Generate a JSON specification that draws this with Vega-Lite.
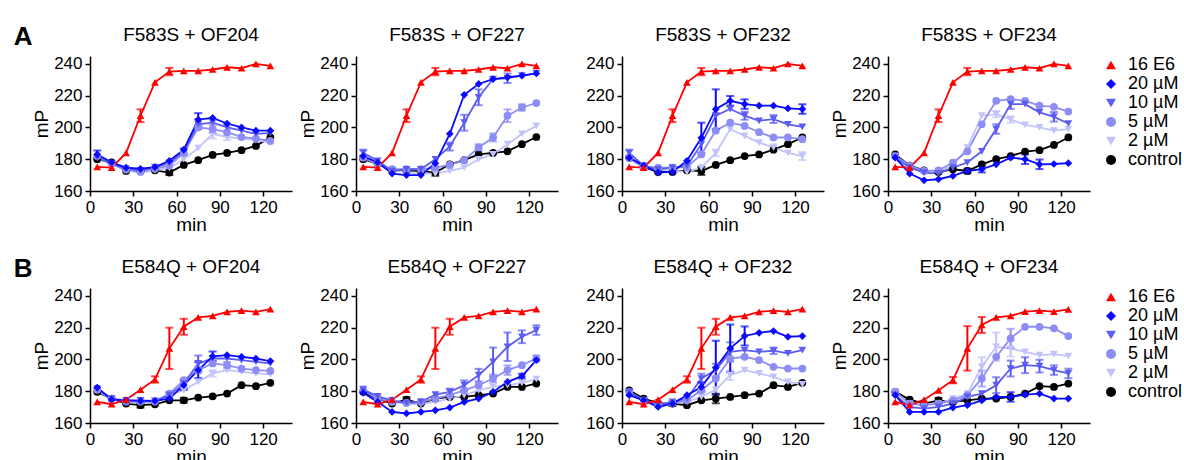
{
"$schema": "https://vega.github.io/schema/vega-lite/v6.json",
"padding": {"left": 13, "top": 23, "right": 0, "bottom": 0},
"background": "white",
"datasets": {
"d": [
{"p":"A1","s":"control","t":5,"y":180},{"p":"A1","s":"control","t":15,"y":178},{"p":"A1","s":"control","t":25,"y":172.6},{"p":"A1","s":"control","t":35,"y":172.6},{"p":"A1","s":"control","t":45,"y":173},{"p":"A1","s":"control","t":55,"y":171.6,"e":1.5},{"p":"A1","s":"control","t":65,"y":176.4},{"p":"A1","s":"control","t":75,"y":179.4},{"p":"A1","s":"control","t":85,"y":182.7},{"p":"A1","s":"control","t":95,"y":184},{"p":"A1","s":"control","t":105,"y":185.7},{"p":"A1","s":"control","t":115,"y":188.4},{"p":"A1","s":"control","t":125,"y":193.7},
{"p":"A1","s":"2 µM","t":5,"y":181},{"p":"A1","s":"2 µM","t":15,"y":177},{"p":"A1","s":"2 µM","t":25,"y":173},{"p":"A1","s":"2 µM","t":35,"y":171.5},{"p":"A1","s":"2 µM","t":45,"y":173},{"p":"A1","s":"2 µM","t":55,"y":174.5},{"p":"A1","s":"2 µM","t":65,"y":180},{"p":"A1","s":"2 µM","t":75,"y":187},{"p":"A1","s":"2 µM","t":85,"y":196,"e":3},{"p":"A1","s":"2 µM","t":95,"y":194,"e":2},{"p":"A1","s":"2 µM","t":105,"y":193},{"p":"A1","s":"2 µM","t":115,"y":192},{"p":"A1","s":"2 µM","t":125,"y":190.5},
{"p":"A1","s":"5 µM","t":5,"y":182},{"p":"A1","s":"5 µM","t":15,"y":177},{"p":"A1","s":"5 µM","t":25,"y":173.5},{"p":"A1","s":"5 µM","t":35,"y":172},{"p":"A1","s":"5 µM","t":45,"y":174},{"p":"A1","s":"5 µM","t":55,"y":176},{"p":"A1","s":"5 µM","t":65,"y":184},{"p":"A1","s":"5 µM","t":75,"y":200},{"p":"A1","s":"5 µM","t":85,"y":199,"e":2.5},{"p":"A1","s":"5 µM","t":95,"y":197},{"p":"A1","s":"5 µM","t":105,"y":194},{"p":"A1","s":"5 µM","t":115,"y":193},{"p":"A1","s":"5 µM","t":125,"y":191.5},
{"p":"A1","s":"10 µM","t":5,"y":181},{"p":"A1","s":"10 µM","t":15,"y":177},{"p":"A1","s":"10 µM","t":25,"y":174},{"p":"A1","s":"10 µM","t":35,"y":173},{"p":"A1","s":"10 µM","t":45,"y":175},{"p":"A1","s":"10 µM","t":55,"y":177.5},{"p":"A1","s":"10 µM","t":65,"y":185,"e":2},{"p":"A1","s":"10 µM","t":75,"y":202,"e":3},{"p":"A1","s":"10 µM","t":85,"y":203},{"p":"A1","s":"10 µM","t":95,"y":200},{"p":"A1","s":"10 µM","t":105,"y":198},{"p":"A1","s":"10 µM","t":115,"y":196},{"p":"A1","s":"10 µM","t":125,"y":196.5},
{"p":"A1","s":"20 µM","t":5,"y":183,"e":2.5},{"p":"A1","s":"20 µM","t":15,"y":178},{"p":"A1","s":"20 µM","t":25,"y":174.7},{"p":"A1","s":"20 µM","t":35,"y":174},{"p":"A1","s":"20 µM","t":45,"y":175},{"p":"A1","s":"20 µM","t":55,"y":179},{"p":"A1","s":"20 µM","t":65,"y":186},{"p":"A1","s":"20 µM","t":75,"y":205,"e":4},{"p":"A1","s":"20 µM","t":85,"y":206},{"p":"A1","s":"20 µM","t":95,"y":202.5},{"p":"A1","s":"20 µM","t":105,"y":200},{"p":"A1","s":"20 µM","t":115,"y":198},{"p":"A1","s":"20 µM","t":125,"y":198},
{"p":"A1","s":"16 E6","t":5,"y":175.2},{"p":"A1","s":"16 E6","t":15,"y":174.7},{"p":"A1","s":"16 E6","t":25,"y":184},{"p":"A1","s":"16 E6","t":35,"y":207.4,"e":4},{"p":"A1","s":"16 E6","t":45,"y":228.4},{"p":"A1","s":"16 E6","t":55,"y":235.2,"e":2.3},{"p":"A1","s":"16 E6","t":65,"y":235.6},{"p":"A1","s":"16 E6","t":75,"y":235.6},{"p":"A1","s":"16 E6","t":85,"y":236.5},{"p":"A1","s":"16 E6","t":95,"y":237.9},{"p":"A1","s":"16 E6","t":105,"y":237.3},{"p":"A1","s":"16 E6","t":115,"y":240},{"p":"A1","s":"16 E6","t":125,"y":238.8},

{"p":"A2","s":"control","t":5,"y":180},{"p":"A2","s":"control","t":15,"y":177},{"p":"A2","s":"control","t":25,"y":173},{"p":"A2","s":"control","t":35,"y":173},{"p":"A2","s":"control","t":45,"y":172.5},{"p":"A2","s":"control","t":55,"y":171.6,"e":2},{"p":"A2","s":"control","t":65,"y":176.8},{"p":"A2","s":"control","t":75,"y":179.5},{"p":"A2","s":"control","t":85,"y":183},{"p":"A2","s":"control","t":95,"y":184},{"p":"A2","s":"control","t":105,"y":185},{"p":"A2","s":"control","t":115,"y":189.5},{"p":"A2","s":"control","t":125,"y":194},
{"p":"A2","s":"2 µM","t":5,"y":181},{"p":"A2","s":"2 µM","t":15,"y":177},{"p":"A2","s":"2 µM","t":25,"y":173.7},{"p":"A2","s":"2 µM","t":35,"y":171.6},{"p":"A2","s":"2 µM","t":45,"y":171},{"p":"A2","s":"2 µM","t":55,"y":171},{"p":"A2","s":"2 µM","t":65,"y":172.6},{"p":"A2","s":"2 µM","t":75,"y":174.7},{"p":"A2","s":"2 µM","t":85,"y":180},{"p":"A2","s":"2 µM","t":95,"y":183},{"p":"A2","s":"2 µM","t":105,"y":189.5},{"p":"A2","s":"2 µM","t":115,"y":196},{"p":"A2","s":"2 µM","t":125,"y":201},
{"p":"A2","s":"5 µM","t":5,"y":181},{"p":"A2","s":"5 µM","t":15,"y":177},{"p":"A2","s":"5 µM","t":25,"y":173.7},{"p":"A2","s":"5 µM","t":35,"y":173.7},{"p":"A2","s":"5 µM","t":45,"y":173.7},{"p":"A2","s":"5 µM","t":55,"y":174.7},{"p":"A2","s":"5 µM","t":65,"y":176.4},{"p":"A2","s":"5 µM","t":75,"y":179.4},{"p":"A2","s":"5 µM","t":85,"y":187.4,"e":2},{"p":"A2","s":"5 µM","t":95,"y":193.7,"e":2.5},{"p":"A2","s":"5 µM","t":105,"y":207.4,"e":4},{"p":"A2","s":"5 µM","t":115,"y":212.6,"e":2},{"p":"A2","s":"5 µM","t":125,"y":215.4},
{"p":"A2","s":"10 µM","t":5,"y":184,"e":2},{"p":"A2","s":"10 µM","t":15,"y":179},{"p":"A2","s":"10 µM","t":25,"y":172.6},{"p":"A2","s":"10 µM","t":35,"y":173.7},{"p":"A2","s":"10 µM","t":45,"y":173.7},{"p":"A2","s":"10 µM","t":55,"y":180},{"p":"A2","s":"10 µM","t":65,"y":188,"e":2.5},{"p":"A2","s":"10 µM","t":75,"y":203,"e":5},{"p":"A2","s":"10 µM","t":85,"y":219,"e":5},{"p":"A2","s":"10 µM","t":95,"y":230.5},{"p":"A2","s":"10 µM","t":105,"y":231,"e":3},{"p":"A2","s":"10 µM","t":115,"y":232.6},{"p":"A2","s":"10 µM","t":125,"y":234},
{"p":"A2","s":"20 µM","t":5,"y":182},{"p":"A2","s":"20 µM","t":15,"y":178},{"p":"A2","s":"20 µM","t":25,"y":171},{"p":"A2","s":"20 µM","t":35,"y":170},{"p":"A2","s":"20 µM","t":45,"y":170},{"p":"A2","s":"20 µM","t":55,"y":177.5},{"p":"A2","s":"20 µM","t":65,"y":196},{"p":"A2","s":"20 µM","t":75,"y":220.6},{"p":"A2","s":"20 µM","t":85,"y":227.4},{"p":"A2","s":"20 µM","t":95,"y":230.5},{"p":"A2","s":"20 µM","t":105,"y":231.6},{"p":"A2","s":"20 µM","t":115,"y":232.6},{"p":"A2","s":"20 µM","t":125,"y":234},
{"p":"A2","s":"16 E6","t":5,"y":175.2},{"p":"A2","s":"16 E6","t":15,"y":174.7},{"p":"A2","s":"16 E6","t":25,"y":184},{"p":"A2","s":"16 E6","t":35,"y":207.4,"e":4},{"p":"A2","s":"16 E6","t":45,"y":228.4},{"p":"A2","s":"16 E6","t":55,"y":235.2,"e":2.3},{"p":"A2","s":"16 E6","t":65,"y":235.6},{"p":"A2","s":"16 E6","t":75,"y":235.6},{"p":"A2","s":"16 E6","t":85,"y":236.5},{"p":"A2","s":"16 E6","t":95,"y":237.9},{"p":"A2","s":"16 E6","t":105,"y":237.3},{"p":"A2","s":"16 E6","t":115,"y":240},{"p":"A2","s":"16 E6","t":125,"y":238.8},

{"p":"A3","s":"control","t":5,"y":181},{"p":"A3","s":"control","t":15,"y":175},{"p":"A3","s":"control","t":25,"y":172},{"p":"A3","s":"control","t":35,"y":172},{"p":"A3","s":"control","t":45,"y":173},{"p":"A3","s":"control","t":55,"y":172.6,"e":2.5},{"p":"A3","s":"control","t":65,"y":176.4},{"p":"A3","s":"control","t":75,"y":179.4},{"p":"A3","s":"control","t":85,"y":182},{"p":"A3","s":"control","t":95,"y":183},{"p":"A3","s":"control","t":105,"y":186},{"p":"A3","s":"control","t":115,"y":189.5},{"p":"A3","s":"control","t":125,"y":193.7},
{"p":"A3","s":"2 µM","t":5,"y":180},{"p":"A3","s":"2 µM","t":15,"y":174.7},{"p":"A3","s":"2 µM","t":25,"y":173.7},{"p":"A3","s":"2 µM","t":35,"y":172.6},{"p":"A3","s":"2 µM","t":45,"y":172},{"p":"A3","s":"2 µM","t":55,"y":174.7},{"p":"A3","s":"2 µM","t":65,"y":184,"e":2},{"p":"A3","s":"2 µM","t":75,"y":199},{"p":"A3","s":"2 µM","t":85,"y":194.7},{"p":"A3","s":"2 µM","t":95,"y":190.5},{"p":"A3","s":"2 µM","t":105,"y":187.4,"e":2},{"p":"A3","s":"2 µM","t":115,"y":184},{"p":"A3","s":"2 µM","t":125,"y":182,"e":2.5},
{"p":"A3","s":"5 µM","t":5,"y":181},{"p":"A3","s":"5 µM","t":15,"y":175},{"p":"A3","s":"5 µM","t":25,"y":174.7},{"p":"A3","s":"5 µM","t":35,"y":174.7},{"p":"A3","s":"5 µM","t":45,"y":175},{"p":"A3","s":"5 µM","t":55,"y":183},{"p":"A3","s":"5 µM","t":65,"y":198},{"p":"A3","s":"5 µM","t":75,"y":203},{"p":"A3","s":"5 µM","t":85,"y":201},{"p":"A3","s":"5 µM","t":95,"y":197},{"p":"A3","s":"5 µM","t":105,"y":193.7},{"p":"A3","s":"5 µM","t":115,"y":193.7},{"p":"A3","s":"5 µM","t":125,"y":192.6},
{"p":"A3","s":"10 µM","t":5,"y":184,"e":2},{"p":"A3","s":"10 µM","t":15,"y":176},{"p":"A3","s":"10 µM","t":25,"y":173.7},{"p":"A3","s":"10 µM","t":35,"y":174.7},{"p":"A3","s":"10 µM","t":45,"y":175.8},{"p":"A3","s":"10 µM","t":55,"y":189.5},{"p":"A3","s":"10 µM","t":65,"y":207.4},{"p":"A3","s":"10 µM","t":75,"y":211.6},{"p":"A3","s":"10 µM","t":85,"y":207.4,"e":2.5},{"p":"A3","s":"10 µM","t":95,"y":204.2},{"p":"A3","s":"10 µM","t":105,"y":205.3,"e":2.5},{"p":"A3","s":"10 µM","t":115,"y":202},{"p":"A3","s":"10 µM","t":125,"y":200.4},
{"p":"A3","s":"20 µM","t":5,"y":181},{"p":"A3","s":"20 µM","t":15,"y":176},{"p":"A3","s":"20 µM","t":25,"y":171.6},{"p":"A3","s":"20 µM","t":35,"y":172},{"p":"A3","s":"20 µM","t":45,"y":179},{"p":"A3","s":"20 µM","t":55,"y":193.5,"e":9.5},{"p":"A3","s":"20 µM","t":65,"y":211.5,"e":12.5},{"p":"A3","s":"20 µM","t":75,"y":216.8,"e":3},{"p":"A3","s":"20 µM","t":85,"y":214.7,"e":3},{"p":"A3","s":"20 µM","t":95,"y":213.7},{"p":"A3","s":"20 µM","t":105,"y":213.7},{"p":"A3","s":"20 µM","t":115,"y":212},{"p":"A3","s":"20 µM","t":125,"y":211.6,"e":3},
{"p":"A3","s":"16 E6","t":5,"y":175.2},{"p":"A3","s":"16 E6","t":15,"y":174.7},{"p":"A3","s":"16 E6","t":25,"y":184},{"p":"A3","s":"16 E6","t":35,"y":207.4,"e":4},{"p":"A3","s":"16 E6","t":45,"y":228.4},{"p":"A3","s":"16 E6","t":55,"y":235.2,"e":2.3},{"p":"A3","s":"16 E6","t":65,"y":235.6},{"p":"A3","s":"16 E6","t":75,"y":235.6},{"p":"A3","s":"16 E6","t":85,"y":236.5},{"p":"A3","s":"16 E6","t":95,"y":237.9},{"p":"A3","s":"16 E6","t":105,"y":237.3},{"p":"A3","s":"16 E6","t":115,"y":240},{"p":"A3","s":"16 E6","t":125,"y":238.8},

{"p":"A4","s":"control","t":5,"y":183},{"p":"A4","s":"control","t":15,"y":176},{"p":"A4","s":"control","t":25,"y":173},{"p":"A4","s":"control","t":35,"y":172},{"p":"A4","s":"control","t":45,"y":173.7},{"p":"A4","s":"control","t":55,"y":172.6,"e":1.5},{"p":"A4","s":"control","t":65,"y":176.8},{"p":"A4","s":"control","t":75,"y":180},{"p":"A4","s":"control","t":85,"y":182},{"p":"A4","s":"control","t":95,"y":184.8},{"p":"A4","s":"control","t":105,"y":185.7},{"p":"A4","s":"control","t":115,"y":189},{"p":"A4","s":"control","t":125,"y":193.7},
{"p":"A4","s":"2 µM","t":5,"y":182},{"p":"A4","s":"2 µM","t":15,"y":174.7},{"p":"A4","s":"2 µM","t":25,"y":172.6},{"p":"A4","s":"2 µM","t":35,"y":172.6},{"p":"A4","s":"2 µM","t":45,"y":175.8},{"p":"A4","s":"2 µM","t":55,"y":187.4},{"p":"A4","s":"2 µM","t":65,"y":207.4},{"p":"A4","s":"2 µM","t":75,"y":208.4,"e":2},{"p":"A4","s":"2 µM","t":85,"y":205,"e":2},{"p":"A4","s":"2 µM","t":95,"y":201.7},{"p":"A4","s":"2 µM","t":105,"y":200},{"p":"A4","s":"2 µM","t":115,"y":198},{"p":"A4","s":"2 µM","t":125,"y":199},
{"p":"A4","s":"5 µM","t":5,"y":182},{"p":"A4","s":"5 µM","t":15,"y":176},{"p":"A4","s":"5 µM","t":25,"y":172.6},{"p":"A4","s":"5 µM","t":35,"y":173},{"p":"A4","s":"5 µM","t":45,"y":177.9},{"p":"A4","s":"5 µM","t":55,"y":185},{"p":"A4","s":"5 µM","t":65,"y":202},{"p":"A4","s":"5 µM","t":75,"y":216.8},{"p":"A4","s":"5 µM","t":85,"y":217.9},{"p":"A4","s":"5 µM","t":95,"y":216.8},{"p":"A4","s":"5 µM","t":105,"y":213.7},{"p":"A4","s":"5 µM","t":115,"y":213},{"p":"A4","s":"5 µM","t":125,"y":210},
{"p":"A4","s":"10 µM","t":5,"y":181},{"p":"A4","s":"10 µM","t":15,"y":174.7},{"p":"A4","s":"10 µM","t":25,"y":171.6},{"p":"A4","s":"10 µM","t":35,"y":171},{"p":"A4","s":"10 µM","t":45,"y":174.7},{"p":"A4","s":"10 µM","t":55,"y":177.9},{"p":"A4","s":"10 µM","t":65,"y":185},{"p":"A4","s":"10 µM","t":75,"y":199,"e":3},{"p":"A4","s":"10 µM","t":85,"y":214.7,"e":3},{"p":"A4","s":"10 µM","t":95,"y":214.7},{"p":"A4","s":"10 µM","t":105,"y":209.5},{"p":"A4","s":"10 µM","t":115,"y":206.7,"e":3},{"p":"A4","s":"10 µM","t":125,"y":202.5},
{"p":"A4","s":"20 µM","t":5,"y":181},{"p":"A4","s":"20 µM","t":15,"y":171},{"p":"A4","s":"20 µM","t":25,"y":166.7},{"p":"A4","s":"20 µM","t":35,"y":167.4},{"p":"A4","s":"20 µM","t":45,"y":169.5},{"p":"A4","s":"20 µM","t":55,"y":172.6},{"p":"A4","s":"20 µM","t":65,"y":173.7,"e":2},{"p":"A4","s":"20 µM","t":75,"y":176.8},{"p":"A4","s":"20 µM","t":85,"y":181},{"p":"A4","s":"20 µM","t":95,"y":180,"e":3},{"p":"A4","s":"20 µM","t":105,"y":176.8,"e":3},{"p":"A4","s":"20 µM","t":115,"y":177},{"p":"A4","s":"20 µM","t":125,"y":177.5},
{"p":"A4","s":"16 E6","t":5,"y":175.2},{"p":"A4","s":"16 E6","t":15,"y":174.7},{"p":"A4","s":"16 E6","t":25,"y":184},{"p":"A4","s":"16 E6","t":35,"y":207.4,"e":4},{"p":"A4","s":"16 E6","t":45,"y":228.4},{"p":"A4","s":"16 E6","t":55,"y":235.2,"e":2.3},{"p":"A4","s":"16 E6","t":65,"y":235.6},{"p":"A4","s":"16 E6","t":75,"y":235.6},{"p":"A4","s":"16 E6","t":85,"y":236.5},{"p":"A4","s":"16 E6","t":95,"y":237.9},{"p":"A4","s":"16 E6","t":105,"y":237.3},{"p":"A4","s":"16 E6","t":115,"y":240},{"p":"A4","s":"16 E6","t":125,"y":238.8},

{"p":"B1","s":"control","t":5,"y":179.6},{"p":"B1","s":"control","t":15,"y":175.4},{"p":"B1","s":"control","t":25,"y":172.2},{"p":"B1","s":"control","t":35,"y":171.2,"e":1.5},{"p":"B1","s":"control","t":45,"y":171.8},{"p":"B1","s":"control","t":55,"y":174.3},{"p":"B1","s":"control","t":65,"y":174.3,"e":1.5},{"p":"B1","s":"control","t":75,"y":176},{"p":"B1","s":"control","t":85,"y":176.8},{"p":"B1","s":"control","t":95,"y":178.5},{"p":"B1","s":"control","t":105,"y":183.8},{"p":"B1","s":"control","t":115,"y":183.2},{"p":"B1","s":"control","t":125,"y":185.3},
{"p":"B1","s":"2 µM","t":5,"y":180.5},{"p":"B1","s":"2 µM","t":15,"y":175},{"p":"B1","s":"2 µM","t":25,"y":173},{"p":"B1","s":"2 µM","t":35,"y":173},{"p":"B1","s":"2 µM","t":45,"y":173},{"p":"B1","s":"2 µM","t":55,"y":177.5},{"p":"B1","s":"2 µM","t":65,"y":180.6},{"p":"B1","s":"2 µM","t":75,"y":185.9},{"p":"B1","s":"2 µM","t":85,"y":191.2,"e":2},{"p":"B1","s":"2 µM","t":95,"y":193.3},{"p":"B1","s":"2 µM","t":105,"y":192.2},{"p":"B1","s":"2 µM","t":115,"y":191.2},{"p":"B1","s":"2 µM","t":125,"y":190.7},
{"p":"B1","s":"5 µM","t":5,"y":181},{"p":"B1","s":"5 µM","t":15,"y":175},{"p":"B1","s":"5 µM","t":25,"y":173.5},{"p":"B1","s":"5 µM","t":35,"y":173.5},{"p":"B1","s":"5 µM","t":45,"y":173.5},{"p":"B1","s":"5 µM","t":55,"y":178.5},{"p":"B1","s":"5 µM","t":65,"y":187},{"p":"B1","s":"5 µM","t":75,"y":193.3,"e":2},{"p":"B1","s":"5 µM","t":85,"y":197.5},{"p":"B1","s":"5 µM","t":95,"y":196.4,"e":2},{"p":"B1","s":"5 µM","t":105,"y":194.3},{"p":"B1","s":"5 µM","t":115,"y":193.3},{"p":"B1","s":"5 µM","t":125,"y":192.8},
{"p":"B1","s":"10 µM","t":5,"y":181.7},{"p":"B1","s":"10 µM","t":15,"y":175.4},{"p":"B1","s":"10 µM","t":25,"y":174.3},{"p":"B1","s":"10 µM","t":35,"y":174.3},{"p":"B1","s":"10 µM","t":45,"y":173.9},{"p":"B1","s":"10 µM","t":55,"y":177.5,"e":2},{"p":"B1","s":"10 µM","t":65,"y":184.8,"e":3},{"p":"B1","s":"10 µM","t":75,"y":197.5,"e":5},{"p":"B1","s":"10 µM","t":85,"y":200.6},{"p":"B1","s":"10 µM","t":95,"y":200.6},{"p":"B1","s":"10 µM","t":105,"y":199.6},{"p":"B1","s":"10 µM","t":115,"y":198.5},{"p":"B1","s":"10 µM","t":125,"y":197.5},
{"p":"B1","s":"20 µM","t":5,"y":182.3},{"p":"B1","s":"20 µM","t":15,"y":174.7},{"p":"B1","s":"20 µM","t":25,"y":174.3},{"p":"B1","s":"20 µM","t":35,"y":173.9},{"p":"B1","s":"20 µM","t":45,"y":173.9},{"p":"B1","s":"20 µM","t":55,"y":175.4},{"p":"B1","s":"20 µM","t":65,"y":183.8,"e":3},{"p":"B1","s":"20 µM","t":75,"y":193.3,"e":5},{"p":"B1","s":"20 µM","t":85,"y":202,"e":3},{"p":"B1","s":"20 µM","t":95,"y":202.7},{"p":"B1","s":"20 µM","t":105,"y":201.7},{"p":"B1","s":"20 µM","t":115,"y":200.6},{"p":"B1","s":"20 µM","t":125,"y":199},
{"p":"B1","s":"16 E6","t":5,"y":173.3},{"p":"B1","s":"16 E6","t":15,"y":171.8},{"p":"B1","s":"16 E6","t":25,"y":174.7},{"p":"B1","s":"16 E6","t":35,"y":181},{"p":"B1","s":"16 E6","t":45,"y":187.4,"e":2},{"p":"B1","s":"16 E6","t":55,"y":207,"e":13},{"p":"B1","s":"16 E6","t":65,"y":220.6,"e":5},{"p":"B1","s":"16 E6","t":75,"y":226.5},{"p":"B1","s":"16 E6","t":85,"y":227.5},{"p":"B1","s":"16 E6","t":95,"y":230},{"p":"B1","s":"16 E6","t":105,"y":230.8},{"p":"B1","s":"16 E6","t":115,"y":230},{"p":"B1","s":"16 E6","t":125,"y":231.7},

{"p":"B2","s":"control","t":5,"y":179.6},{"p":"B2","s":"control","t":15,"y":175.4},{"p":"B2","s":"control","t":25,"y":172.2},{"p":"B2","s":"control","t":35,"y":174.7,"e":1.5},{"p":"B2","s":"control","t":45,"y":172.2},{"p":"B2","s":"control","t":55,"y":175.4},{"p":"B2","s":"control","t":65,"y":176.4},{"p":"B2","s":"control","t":75,"y":176.4},{"p":"B2","s":"control","t":85,"y":177.5},{"p":"B2","s":"control","t":95,"y":178.5},{"p":"B2","s":"control","t":105,"y":182.7},{"p":"B2","s":"control","t":115,"y":182.7},{"p":"B2","s":"control","t":125,"y":184.8},
{"p":"B2","s":"2 µM","t":5,"y":181.7},{"p":"B2","s":"2 µM","t":15,"y":175.4},{"p":"B2","s":"2 µM","t":25,"y":174.3},{"p":"B2","s":"2 µM","t":35,"y":172.2},{"p":"B2","s":"2 µM","t":45,"y":171.8},{"p":"B2","s":"2 µM","t":55,"y":173.3},{"p":"B2","s":"2 µM","t":65,"y":175.4},{"p":"B2","s":"2 µM","t":75,"y":177.5},{"p":"B2","s":"2 µM","t":85,"y":180.6},{"p":"B2","s":"2 µM","t":95,"y":182.7},{"p":"B2","s":"2 µM","t":105,"y":183.8},{"p":"B2","s":"2 µM","t":115,"y":185.3},{"p":"B2","s":"2 µM","t":125,"y":187.6},
{"p":"B2","s":"5 µM","t":5,"y":180.6},{"p":"B2","s":"5 µM","t":15,"y":175.4},{"p":"B2","s":"5 µM","t":25,"y":173.3},{"p":"B2","s":"5 µM","t":35,"y":172.6},{"p":"B2","s":"5 µM","t":45,"y":173.3},{"p":"B2","s":"5 µM","t":55,"y":175.4},{"p":"B2","s":"5 µM","t":65,"y":177.5},{"p":"B2","s":"5 µM","t":75,"y":180.6},{"p":"B2","s":"5 µM","t":85,"y":183.8},{"p":"B2","s":"5 µM","t":95,"y":188,"e":2.5},{"p":"B2","s":"5 µM","t":105,"y":193.3,"e":3},{"p":"B2","s":"5 µM","t":115,"y":196.4},{"p":"B2","s":"5 µM","t":125,"y":200.6,"e":2},
{"p":"B2","s":"10 µM","t":5,"y":181},{"p":"B2","s":"10 µM","t":15,"y":176.8},{"p":"B2","s":"10 µM","t":25,"y":174.3},{"p":"B2","s":"10 µM","t":35,"y":172.6},{"p":"B2","s":"10 µM","t":45,"y":173.3},{"p":"B2","s":"10 µM","t":55,"y":177.9},{"p":"B2","s":"10 µM","t":65,"y":179.6,"e":2},{"p":"B2","s":"10 µM","t":75,"y":183.8,"e":3},{"p":"B2","s":"10 µM","t":85,"y":190.1,"e":4},{"p":"B2","s":"10 µM","t":95,"y":198.5,"e":9},{"p":"B2","s":"10 µM","t":105,"y":208,"e":9},{"p":"B2","s":"10 µM","t":115,"y":214.3,"e":4},{"p":"B2","s":"10 µM","t":125,"y":218.5,"e":3},
{"p":"B2","s":"20 µM","t":5,"y":179},{"p":"B2","s":"20 µM","t":15,"y":173.3},{"p":"B2","s":"20 µM","t":25,"y":167},{"p":"B2","s":"20 µM","t":35,"y":166},{"p":"B2","s":"20 µM","t":45,"y":167},{"p":"B2","s":"20 µM","t":55,"y":168},{"p":"B2","s":"20 µM","t":65,"y":169.7},{"p":"B2","s":"20 µM","t":75,"y":173.3},{"p":"B2","s":"20 µM","t":85,"y":175.4},{"p":"B2","s":"20 µM","t":95,"y":179.6},{"p":"B2","s":"20 µM","t":105,"y":185.9},{"p":"B2","s":"20 µM","t":115,"y":189.5,"e":1.5},{"p":"B2","s":"20 µM","t":125,"y":199.6},
{"p":"B2","s":"16 E6","t":5,"y":173.3},{"p":"B2","s":"16 E6","t":15,"y":171.8},{"p":"B2","s":"16 E6","t":25,"y":174.7},{"p":"B2","s":"16 E6","t":35,"y":181},{"p":"B2","s":"16 E6","t":45,"y":187.4,"e":2},{"p":"B2","s":"16 E6","t":55,"y":207,"e":13},{"p":"B2","s":"16 E6","t":65,"y":220.6,"e":5},{"p":"B2","s":"16 E6","t":75,"y":226.5},{"p":"B2","s":"16 E6","t":85,"y":227.5},{"p":"B2","s":"16 E6","t":95,"y":230},{"p":"B2","s":"16 E6","t":105,"y":230.8},{"p":"B2","s":"16 E6","t":115,"y":230},{"p":"B2","s":"16 E6","t":125,"y":231.7},

{"p":"B3","s":"control","t":5,"y":180.6},{"p":"B3","s":"control","t":15,"y":175.4},{"p":"B3","s":"control","t":25,"y":172.6},{"p":"B3","s":"control","t":35,"y":172.2,"e":1.5},{"p":"B3","s":"control","t":45,"y":171.2},{"p":"B3","s":"control","t":55,"y":174.3},{"p":"B3","s":"control","t":65,"y":175.4,"e":3},{"p":"B3","s":"control","t":75,"y":176.4},{"p":"B3","s":"control","t":85,"y":177.5},{"p":"B3","s":"control","t":95,"y":178.5},{"p":"B3","s":"control","t":105,"y":183.8},{"p":"B3","s":"control","t":115,"y":182.7},{"p":"B3","s":"control","t":125,"y":185.3},
{"p":"B3","s":"2 µM","t":5,"y":178.5},{"p":"B3","s":"2 µM","t":15,"y":173.9},{"p":"B3","s":"2 µM","t":25,"y":172.2},{"p":"B3","s":"2 µM","t":35,"y":172.6},{"p":"B3","s":"2 µM","t":45,"y":173.3},{"p":"B3","s":"2 µM","t":55,"y":176.4},{"p":"B3","s":"2 µM","t":65,"y":181},{"p":"B3","s":"2 µM","t":75,"y":190.1,"e":3},{"p":"B3","s":"2 µM","t":85,"y":193.3},{"p":"B3","s":"2 µM","t":95,"y":191.2},{"p":"B3","s":"2 µM","t":105,"y":189.1},{"p":"B3","s":"2 µM","t":115,"y":185.9},{"p":"B3","s":"2 µM","t":125,"y":184.4},
{"p":"B3","s":"5 µM","t":5,"y":179.6},{"p":"B3","s":"5 µM","t":15,"y":174.3},{"p":"B3","s":"5 µM","t":25,"y":171.8},{"p":"B3","s":"5 µM","t":35,"y":172.6},{"p":"B3","s":"5 µM","t":45,"y":174.3},{"p":"B3","s":"5 µM","t":55,"y":180.6},{"p":"B3","s":"5 µM","t":65,"y":188},{"p":"B3","s":"5 µM","t":75,"y":200.6},{"p":"B3","s":"5 µM","t":85,"y":201.7},{"p":"B3","s":"5 µM","t":95,"y":199.6},{"p":"B3","s":"5 µM","t":105,"y":195.4},{"p":"B3","s":"5 µM","t":115,"y":194.3},{"p":"B3","s":"5 µM","t":125,"y":194.3},
{"p":"B3","s":"10 µM","t":5,"y":179.6},{"p":"B3","s":"10 µM","t":15,"y":174.3},{"p":"B3","s":"10 µM","t":25,"y":171.2},{"p":"B3","s":"10 µM","t":35,"y":173.3},{"p":"B3","s":"10 µM","t":45,"y":175.4},{"p":"B3","s":"10 µM","t":55,"y":188,"e":3},{"p":"B3","s":"10 µM","t":65,"y":193.3,"e":4},{"p":"B3","s":"10 µM","t":75,"y":204.8,"e":6},{"p":"B3","s":"10 µM","t":85,"y":205.9},{"p":"B3","s":"10 µM","t":95,"y":204.8},{"p":"B3","s":"10 µM","t":105,"y":205.5,"e":2},{"p":"B3","s":"10 µM","t":115,"y":203.8},{"p":"B3","s":"10 µM","t":125,"y":205.9},
{"p":"B3","s":"20 µM","t":5,"y":177.5},{"p":"B3","s":"20 µM","t":15,"y":174.3},{"p":"B3","s":"20 µM","t":25,"y":170.1},{"p":"B3","s":"20 µM","t":35,"y":172.2},{"p":"B3","s":"20 µM","t":45,"y":177.5},{"p":"B3","s":"20 µM","t":55,"y":182.7,"e":3},{"p":"B3","s":"20 µM","t":65,"y":194.8,"e":17},{"p":"B3","s":"20 µM","t":75,"y":207,"e":15},{"p":"B3","s":"20 µM","t":85,"y":214.8,"e":6},{"p":"B3","s":"20 µM","t":95,"y":216.8},{"p":"B3","s":"20 µM","t":105,"y":217.9},{"p":"B3","s":"20 µM","t":115,"y":214.3},{"p":"B3","s":"20 µM","t":125,"y":214.7},
{"p":"B3","s":"16 E6","t":5,"y":173.3},{"p":"B3","s":"16 E6","t":15,"y":171.8},{"p":"B3","s":"16 E6","t":25,"y":174.7},{"p":"B3","s":"16 E6","t":35,"y":181},{"p":"B3","s":"16 E6","t":45,"y":187.4,"e":2},{"p":"B3","s":"16 E6","t":55,"y":207,"e":13},{"p":"B3","s":"16 E6","t":65,"y":220.6,"e":5},{"p":"B3","s":"16 E6","t":75,"y":226.5},{"p":"B3","s":"16 E6","t":85,"y":227.5},{"p":"B3","s":"16 E6","t":95,"y":230},{"p":"B3","s":"16 E6","t":105,"y":230.8},{"p":"B3","s":"16 E6","t":115,"y":230},{"p":"B3","s":"16 E6","t":125,"y":231.7},

{"p":"B4","s":"control","t":5,"y":179.6},{"p":"B4","s":"control","t":15,"y":174.7},{"p":"B4","s":"control","t":25,"y":172.2},{"p":"B4","s":"control","t":35,"y":174.3,"e":1.5},{"p":"B4","s":"control","t":45,"y":173.3},{"p":"B4","s":"control","t":55,"y":174.3},{"p":"B4","s":"control","t":65,"y":175.4},{"p":"B4","s":"control","t":75,"y":175.4},{"p":"B4","s":"control","t":85,"y":176.4},{"p":"B4","s":"control","t":95,"y":178.5},{"p":"B4","s":"control","t":105,"y":183.2},{"p":"B4","s":"control","t":115,"y":182.7},{"p":"B4","s":"control","t":125,"y":184.8},
{"p":"B4","s":"2 µM","t":5,"y":179.6},{"p":"B4","s":"2 µM","t":15,"y":172.2},{"p":"B4","s":"2 µM","t":25,"y":171.2},{"p":"B4","s":"2 µM","t":35,"y":172.2},{"p":"B4","s":"2 µM","t":45,"y":175.4},{"p":"B4","s":"2 µM","t":55,"y":178.5},{"p":"B4","s":"2 µM","t":65,"y":195.4,"e":6},{"p":"B4","s":"2 µM","t":75,"y":208,"e":9},{"p":"B4","s":"2 µM","t":85,"y":206.9,"e":5},{"p":"B4","s":"2 µM","t":95,"y":204.8},{"p":"B4","s":"2 µM","t":105,"y":202.7},{"p":"B4","s":"2 µM","t":115,"y":203.4},{"p":"B4","s":"2 µM","t":125,"y":202.1},
{"p":"B4","s":"5 µM","t":5,"y":179.6},{"p":"B4","s":"5 µM","t":15,"y":172.2},{"p":"B4","s":"5 µM","t":25,"y":171.2},{"p":"B4","s":"5 µM","t":35,"y":172.2},{"p":"B4","s":"5 µM","t":45,"y":174.3},{"p":"B4","s":"5 µM","t":55,"y":177.5},{"p":"B4","s":"5 µM","t":65,"y":188,"e":5},{"p":"B4","s":"5 µM","t":75,"y":201.7},{"p":"B4","s":"5 µM","t":85,"y":213.3,"e":6},{"p":"B4","s":"5 µM","t":95,"y":220.6},{"p":"B4","s":"5 µM","t":105,"y":220.6},{"p":"B4","s":"5 µM","t":115,"y":219.6},{"p":"B4","s":"5 µM","t":125,"y":214.7},
{"p":"B4","s":"10 µM","t":5,"y":177.5},{"p":"B4","s":"10 µM","t":15,"y":170.1},{"p":"B4","s":"10 µM","t":25,"y":169.1},{"p":"B4","s":"10 µM","t":35,"y":170.1},{"p":"B4","s":"10 µM","t":45,"y":172.2},{"p":"B4","s":"10 µM","t":55,"y":176.4},{"p":"B4","s":"10 µM","t":65,"y":178.5},{"p":"B4","s":"10 µM","t":75,"y":183.8,"e":5},{"p":"B4","s":"10 µM","t":85,"y":194.3,"e":5},{"p":"B4","s":"10 µM","t":95,"y":196.4,"e":5},{"p":"B4","s":"10 µM","t":105,"y":195.8,"e":4},{"p":"B4","s":"10 µM","t":115,"y":193.3,"e":3},{"p":"B4","s":"10 µM","t":125,"y":191.2,"e":3},
{"p":"B4","s":"20 µM","t":5,"y":177.5},{"p":"B4","s":"20 µM","t":15,"y":167},{"p":"B4","s":"20 µM","t":25,"y":167},{"p":"B4","s":"20 µM","t":35,"y":167},{"p":"B4","s":"20 µM","t":45,"y":169.7},{"p":"B4","s":"20 µM","t":55,"y":171.2},{"p":"B4","s":"20 µM","t":65,"y":174.3},{"p":"B4","s":"20 µM","t":75,"y":176.4},{"p":"B4","s":"20 µM","t":85,"y":176.4,"e":3},{"p":"B4","s":"20 µM","t":95,"y":177.9},{"p":"B4","s":"20 µM","t":105,"y":178.5},{"p":"B4","s":"20 µM","t":115,"y":175.4},{"p":"B4","s":"20 µM","t":125,"y":175.4},
{"p":"B4","s":"16 E6","t":5,"y":173.3},{"p":"B4","s":"16 E6","t":15,"y":171.2},{"p":"B4","s":"16 E6","t":25,"y":174.7},{"p":"B4","s":"16 E6","t":35,"y":180.6},{"p":"B4","s":"16 E6","t":45,"y":187,"e":2},{"p":"B4","s":"16 E6","t":55,"y":207,"e":14},{"p":"B4","s":"16 E6","t":65,"y":221.7,"e":5},{"p":"B4","s":"16 E6","t":75,"y":226.5},{"p":"B4","s":"16 E6","t":85,"y":227.4},{"p":"B4","s":"16 E6","t":95,"y":230.1},{"p":"B4","s":"16 E6","t":105,"y":230.7},{"p":"B4","s":"16 E6","t":115,"y":230.1},{"p":"B4","s":"16 E6","t":125,"y":231.6}
]
},
"vconcat": [
{
"title": {"text": "A", "anchor": "start", "fontSize": 26, "fontWeight": "bold", "offset": -24, "dx": -19, "frame": "bounds"},
"spacing": 6,
"resolve": {"legend": {"color": "independent", "shape": "independent"}},
"hconcat": [
{"width": 202, "height": 135, "title": "F583S + OF204", "data": {"name": "d"}, "transform": [{"filter": "datum.p == 'A1'"}],
"encoding": {"x": {"field": "t", "type": "quantitative", "scale": {"domain": [0, 140], "nice": false}, "axis": {"values": [0, 30, 60, 90, 120], "title": "min"}}, "y": {"field": "y", "type": "quantitative", "scale": {"domain": [160, 245], "nice": false, "zero": false}, "axis": {"values": [160, 180, 200, 220, 240], "title": "mP"}}, "color": {"field": "s", "type": "nominal", "legend": null, "scale": {"domain": ["16 E6", "20 µM", "10 µM", "5 µM", "2 µM", "control"], "range": ["#ff0000", "#0a0aff", "#5c5cf2", "#8d8df5", "#c3c3fb", "#000000"]}}},
"layer": [
{"mark": {"type": "line", "strokeWidth": 1.8}},
{"transform": [{"filter": "datum.e > 0"}], "mark": {"type": "errorbar", "ticks": {"size": 8}, "thickness": 2}, "encoding": {"yError": {"field": "e"}}},
{"mark": {"type": "point", "filled": true, "size": 60, "opacity": 1}, "encoding": {"shape": {"field": "s", "type": "nominal", "legend": null, "scale": {"domain": ["16 E6", "20 µM", "10 µM", "5 µM", "2 µM", "control"], "range": ["triangle-up", "diamond", "triangle-down", "circle", "triangle-down", "circle"]}}}}
]},
{"width": 202, "height": 135, "title": "F583S + OF227", "data": {"name": "d"}, "transform": [{"filter": "datum.p == 'A2'"}],
"encoding": {"x": {"field": "t", "type": "quantitative", "scale": {"domain": [0, 140], "nice": false}, "axis": {"values": [0, 30, 60, 90, 120], "title": "min"}}, "y": {"field": "y", "type": "quantitative", "scale": {"domain": [160, 245], "nice": false, "zero": false}, "axis": {"values": [160, 180, 200, 220, 240], "title": "mP"}}, "color": {"field": "s", "type": "nominal", "legend": null, "scale": {"domain": ["16 E6", "20 µM", "10 µM", "5 µM", "2 µM", "control"], "range": ["#ff0000", "#0a0aff", "#5c5cf2", "#8d8df5", "#c3c3fb", "#000000"]}}},
"layer": [
{"mark": {"type": "line", "strokeWidth": 1.8}},
{"transform": [{"filter": "datum.e > 0"}], "mark": {"type": "errorbar", "ticks": {"size": 8}, "thickness": 2}, "encoding": {"yError": {"field": "e"}}},
{"mark": {"type": "point", "filled": true, "size": 60, "opacity": 1}, "encoding": {"shape": {"field": "s", "type": "nominal", "legend": null, "scale": {"domain": ["16 E6", "20 µM", "10 µM", "5 µM", "2 µM", "control"], "range": ["triangle-up", "diamond", "triangle-down", "circle", "triangle-down", "circle"]}}}}
]},
{"width": 202, "height": 135, "title": "F583S + OF232", "data": {"name": "d"}, "transform": [{"filter": "datum.p == 'A3'"}],
"encoding": {"x": {"field": "t", "type": "quantitative", "scale": {"domain": [0, 140], "nice": false}, "axis": {"values": [0, 30, 60, 90, 120], "title": "min"}}, "y": {"field": "y", "type": "quantitative", "scale": {"domain": [160, 245], "nice": false, "zero": false}, "axis": {"values": [160, 180, 200, 220, 240], "title": "mP", "titleOpacity": 0}}, "color": {"field": "s", "type": "nominal", "legend": null, "scale": {"domain": ["16 E6", "20 µM", "10 µM", "5 µM", "2 µM", "control"], "range": ["#ff0000", "#0a0aff", "#5c5cf2", "#8d8df5", "#c3c3fb", "#000000"]}}},
"layer": [
{"mark": {"type": "line", "strokeWidth": 1.8}},
{"transform": [{"filter": "datum.e > 0"}], "mark": {"type": "errorbar", "ticks": {"size": 8}, "thickness": 2}, "encoding": {"yError": {"field": "e"}}},
{"mark": {"type": "point", "filled": true, "size": 60, "opacity": 1}, "encoding": {"shape": {"field": "s", "type": "nominal", "legend": null, "scale": {"domain": ["16 E6", "20 µM", "10 µM", "5 µM", "2 µM", "control"], "range": ["triangle-up", "diamond", "triangle-down", "circle", "triangle-down", "circle"]}}}}
]},
{"width": 202, "height": 135, "title": "F583S + OF234", "data": {"name": "d"}, "transform": [{"filter": "datum.p == 'A4'"}],
"encoding": {"x": {"field": "t", "type": "quantitative", "scale": {"domain": [0, 140], "nice": false}, "axis": {"values": [0, 30, 60, 90, 120], "title": "min"}}, "y": {"field": "y", "type": "quantitative", "scale": {"domain": [160, 245], "nice": false, "zero": false}, "axis": {"values": [160, 180, 200, 220, 240], "title": "mP"}}, "color": {"field": "s", "type": "nominal", "legend": {"title": null, "orient": "right", "offset": 12}, "scale": {"domain": ["16 E6", "20 µM", "10 µM", "5 µM", "2 µM", "control"], "range": ["#ff0000", "#0a0aff", "#5c5cf2", "#8d8df5", "#c3c3fb", "#000000"]}}},
"layer": [
{"mark": {"type": "line", "strokeWidth": 1.8}},
{"transform": [{"filter": "datum.e > 0"}], "mark": {"type": "errorbar", "ticks": {"size": 8}, "thickness": 2}, "encoding": {"yError": {"field": "e"}}},
{"mark": {"type": "point", "filled": true, "size": 60, "opacity": 1}, "encoding": {"shape": {"field": "s", "type": "nominal", "legend": {"title": null, "orient": "right", "offset": 12}, "scale": {"domain": ["16 E6", "20 µM", "10 µM", "5 µM", "2 µM", "control"], "range": ["triangle-up", "diamond", "triangle-down", "circle", "triangle-down", "circle"]}}}}
]}
]
},
{
"title": {"text": "B", "anchor": "start", "fontSize": 26, "fontWeight": "bold", "offset": -24, "dx": -19, "frame": "bounds"},
"spacing": 6,
"resolve": {"legend": {"color": "independent", "shape": "independent"}},
"hconcat": [
{"width": 202, "height": 135, "title": "E584Q + OF204", "data": {"name": "d"}, "transform": [{"filter": "datum.p == 'B1'"}],
"encoding": {"x": {"field": "t", "type": "quantitative", "scale": {"domain": [0, 140], "nice": false}, "axis": {"values": [0, 30, 60, 90, 120], "title": "min"}}, "y": {"field": "y", "type": "quantitative", "scale": {"domain": [160, 245], "nice": false, "zero": false}, "axis": {"values": [160, 180, 200, 220, 240], "title": "mP"}}, "color": {"field": "s", "type": "nominal", "legend": null, "scale": {"domain": ["16 E6", "20 µM", "10 µM", "5 µM", "2 µM", "control"], "range": ["#ff0000", "#0a0aff", "#5c5cf2", "#8d8df5", "#c3c3fb", "#000000"]}}},
"layer": [
{"mark": {"type": "line", "strokeWidth": 1.8}},
{"transform": [{"filter": "datum.e > 0"}], "mark": {"type": "errorbar", "ticks": {"size": 8}, "thickness": 2}, "encoding": {"yError": {"field": "e"}}},
{"mark": {"type": "point", "filled": true, "size": 60, "opacity": 1}, "encoding": {"shape": {"field": "s", "type": "nominal", "legend": null, "scale": {"domain": ["16 E6", "20 µM", "10 µM", "5 µM", "2 µM", "control"], "range": ["triangle-up", "diamond", "triangle-down", "circle", "triangle-down", "circle"]}}}}
]},
{"width": 202, "height": 135, "title": "E584Q + OF227", "data": {"name": "d"}, "transform": [{"filter": "datum.p == 'B2'"}],
"encoding": {"x": {"field": "t", "type": "quantitative", "scale": {"domain": [0, 140], "nice": false}, "axis": {"values": [0, 30, 60, 90, 120], "title": "min"}}, "y": {"field": "y", "type": "quantitative", "scale": {"domain": [160, 245], "nice": false, "zero": false}, "axis": {"values": [160, 180, 200, 220, 240], "title": "mP"}}, "color": {"field": "s", "type": "nominal", "legend": null, "scale": {"domain": ["16 E6", "20 µM", "10 µM", "5 µM", "2 µM", "control"], "range": ["#ff0000", "#0a0aff", "#5c5cf2", "#8d8df5", "#c3c3fb", "#000000"]}}},
"layer": [
{"mark": {"type": "line", "strokeWidth": 1.8}},
{"transform": [{"filter": "datum.e > 0"}], "mark": {"type": "errorbar", "ticks": {"size": 8}, "thickness": 2}, "encoding": {"yError": {"field": "e"}}},
{"mark": {"type": "point", "filled": true, "size": 60, "opacity": 1}, "encoding": {"shape": {"field": "s", "type": "nominal", "legend": null, "scale": {"domain": ["16 E6", "20 µM", "10 µM", "5 µM", "2 µM", "control"], "range": ["triangle-up", "diamond", "triangle-down", "circle", "triangle-down", "circle"]}}}}
]},
{"width": 202, "height": 135, "title": "E584Q + OF232", "data": {"name": "d"}, "transform": [{"filter": "datum.p == 'B3'"}],
"encoding": {"x": {"field": "t", "type": "quantitative", "scale": {"domain": [0, 140], "nice": false}, "axis": {"values": [0, 30, 60, 90, 120], "title": "min"}}, "y": {"field": "y", "type": "quantitative", "scale": {"domain": [160, 245], "nice": false, "zero": false}, "axis": {"values": [160, 180, 200, 220, 240], "title": "mP", "titleOpacity": 0}}, "color": {"field": "s", "type": "nominal", "legend": null, "scale": {"domain": ["16 E6", "20 µM", "10 µM", "5 µM", "2 µM", "control"], "range": ["#ff0000", "#0a0aff", "#5c5cf2", "#8d8df5", "#c3c3fb", "#000000"]}}},
"layer": [
{"mark": {"type": "line", "strokeWidth": 1.8}},
{"transform": [{"filter": "datum.e > 0"}], "mark": {"type": "errorbar", "ticks": {"size": 8}, "thickness": 2}, "encoding": {"yError": {"field": "e"}}},
{"mark": {"type": "point", "filled": true, "size": 60, "opacity": 1}, "encoding": {"shape": {"field": "s", "type": "nominal", "legend": null, "scale": {"domain": ["16 E6", "20 µM", "10 µM", "5 µM", "2 µM", "control"], "range": ["triangle-up", "diamond", "triangle-down", "circle", "triangle-down", "circle"]}}}}
]},
{"width": 202, "height": 135, "title": "E584Q + OF234", "data": {"name": "d"}, "transform": [{"filter": "datum.p == 'B4'"}],
"encoding": {"x": {"field": "t", "type": "quantitative", "scale": {"domain": [0, 140], "nice": false}, "axis": {"values": [0, 30, 60, 90, 120], "title": "min"}}, "y": {"field": "y", "type": "quantitative", "scale": {"domain": [160, 245], "nice": false, "zero": false}, "axis": {"values": [160, 180, 200, 220, 240], "title": "mP"}}, "color": {"field": "s", "type": "nominal", "legend": {"title": null, "orient": "right", "offset": 12}, "scale": {"domain": ["16 E6", "20 µM", "10 µM", "5 µM", "2 µM", "control"], "range": ["#ff0000", "#0a0aff", "#5c5cf2", "#8d8df5", "#c3c3fb", "#000000"]}}},
"layer": [
{"mark": {"type": "line", "strokeWidth": 1.8}},
{"transform": [{"filter": "datum.e > 0"}], "mark": {"type": "errorbar", "ticks": {"size": 8}, "thickness": 2}, "encoding": {"yError": {"field": "e"}}},
{"mark": {"type": "point", "filled": true, "size": 60, "opacity": 1}, "encoding": {"shape": {"field": "s", "type": "nominal", "legend": {"title": null, "orient": "right", "offset": 12}, "scale": {"domain": ["16 E6", "20 µM", "10 µM", "5 µM", "2 µM", "control"], "range": ["triangle-up", "diamond", "triangle-down", "circle", "triangle-down", "circle"]}}}}
]}
]
}
],
"spacing": 21,
"resolve": {"legend": {"color": "independent", "shape": "independent"}},
"config": {
"view": {"stroke": null},
"font": "Liberation Sans",
"title": {"fontSize": 19, "fontWeight": "normal", "color": "black", "offset": 10, "frame": "group"},
"axis": {"grid": false, "domainColor": "black", "domainWidth": 1.5, "tickColor": "black", "tickWidth": 1.5, "tickSize": 5, "labelFontSize": 17, "labelColor": "black", "labelPadding": 3, "titleFontSize": 19, "titleFontWeight": "normal", "titleColor": "black"},
"axisX": {"titlePadding": 0, "labelFlush": false},
"axisY": {"titlePadding": 2},
"legend": {"labelFontSize": 18, "labelColor": "black", "symbolSize": 100, "symbolOpacity": 1, "rowPadding": 1, "padding": 0, "labelOffset": 8, "symbolStrokeWidth": 0, "labelLimit": 200}
}
}
